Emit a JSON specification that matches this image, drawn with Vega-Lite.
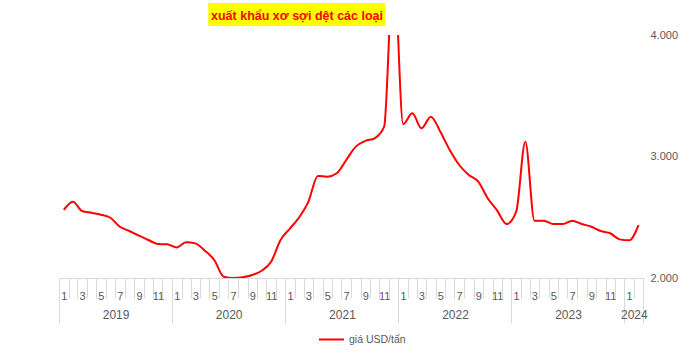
{
  "$schema": "https://vega.github.io/schema/vega-lite/v6.json",
  "width": 584,
  "height": 243,
  "autosize": {"type": "none"},
  "padding": {"left": 59, "top": 35, "right": 47, "bottom": 76},
  "background": "white",
  "title": {
    "text": "xuất khẩu xơ sợi dệt các loại",
    "color": "#ff0000",
    "font": "Liberation Sans Narrow, Liberation Sans, sans-serif",
    "fontSize": 12.5,
    "fontWeight": "bold",
    "anchor": "middle",
    "frame": "group",
    "dx": -54,
    "offset": -19,
    "zindex": 2
  },
  "config": {
    "view": {"stroke": null},
    "font": "Liberation Sans Narrow, Liberation Sans, sans-serif",
    "axis": {"labelFont": "Liberation Sans Narrow, Liberation Sans, sans-serif", "labelFontSize": 11, "labelColor": "#595959", "grid": false},
    "legend": {"labelFont": "Liberation Sans Narrow, Liberation Sans, sans-serif", "labelFontSize": 10.5, "labelColor": "#595959"}
  },
  "resolve": {"axis": {"x": "independent"}},
  "layer": [
    {
      "data": {"values": [{"box": "title"}]},
      "mark": {"type": "rect", "color": "#ffff00"},
      "encoding": {
        "x": {
          "datum": {"year": 2020, "month": 4, "date": 27, "utc": true},
          "type": "temporal",
          "scale": {"type": "utc", "domain": [{"year": 2019, "month": 1, "date": 1, "utc": true}, {"year": 2024, "month": 3, "date": 1, "utc": true}], "nice": false},
          "axis": {
            "orient": "bottom",
            "title": null,
            "values": [
              {"year": 2019, "month": 1, "date": 1, "utc": true},
              {"year": 2020, "month": 1, "date": 1, "utc": true},
              {"year": 2021, "month": 1, "date": 1, "utc": true},
              {"year": 2022, "month": 1, "date": 1, "utc": true},
              {"year": 2023, "month": 1, "date": 1, "utc": true},
              {"year": 2024, "month": 1, "date": 1, "utc": true},
              {"year": 2024, "month": 3, "date": 1, "utc": true}
            ],
            "labelExpr": "utcmonth(datum.value) == 2 ? '' : utcFormat(datum.value, '%Y')",
            "labelOffset": {"condition": {"test": "utcyear(datum.value) == 2024", "value": 9.4}, "value": 56.6},
            "labelOverlap": false,
            "labelFlush": false,
            "labelBound": false,
            "labelFontSize": 12,
            "tickSize": 45,
            "tickColor": "#d9d9d9",
            "domain": false,
            "labelPadding": -14
          }
        },
        "x2": {"datum": {"year": 2021, "month": 11, "date": 20, "utc": true}},
        "y": {
          "datum": 4263,
          "type": "quantitative",
          "scale": {"domain": [2000, 4000], "nice": false, "zero": false},
          "axis": {
            "orient": "right",
            "title": null,
            "values": [2000, 3000, 4000],
            "labelExpr": "replace(format(datum.value, ','), ',', '.')",
            "domain": false,
            "ticks": false,
            "labelPadding": 7
          }
        },
        "y2": {"datum": 4074}
      }
    },
    {
      "data": {"values": [
        {"month": "2019-01", "price": 2560}, {"month": "2019-02", "price": 2628}, {"month": "2019-03", "price": 2551}, {"month": "2019-04", "price": 2537},
        {"month": "2019-05", "price": 2521}, {"month": "2019-06", "price": 2496}, {"month": "2019-07", "price": 2422}, {"month": "2019-08", "price": 2387},
        {"month": "2019-09", "price": 2348}, {"month": "2019-10", "price": 2313}, {"month": "2019-11", "price": 2280}, {"month": "2019-12", "price": 2277},
        {"month": "2020-01", "price": 2252}, {"month": "2020-02", "price": 2294}, {"month": "2020-03", "price": 2285}, {"month": "2020-04", "price": 2225},
        {"month": "2020-05", "price": 2148}, {"month": "2020-06", "price": 2011}, {"month": "2020-07", "price": 2000}, {"month": "2020-08", "price": 2006},
        {"month": "2020-09", "price": 2025}, {"month": "2020-10", "price": 2060}, {"month": "2020-11", "price": 2134}, {"month": "2020-12", "price": 2313},
        {"month": "2021-01", "price": 2409}, {"month": "2021-02", "price": 2500}, {"month": "2021-03", "price": 2628}, {"month": "2021-04", "price": 2840},
        {"month": "2021-05", "price": 2834}, {"month": "2021-06", "price": 2862}, {"month": "2021-07", "price": 2971}, {"month": "2021-08", "price": 3081},
        {"month": "2021-09", "price": 3128}, {"month": "2021-10", "price": 3150}, {"month": "2021-11", "price": 3245}, {"month": "2021-12", "price": 4600},
        {"month": "2022-01", "price": 3267}, {"month": "2022-02", "price": 3355}, {"month": "2022-03", "price": 3232}, {"month": "2022-04", "price": 3328},
        {"month": "2022-05", "price": 3204}, {"month": "2022-06", "price": 3053}, {"month": "2022-07", "price": 2930}, {"month": "2022-08", "price": 2848},
        {"month": "2022-09", "price": 2793}, {"month": "2022-10", "price": 2656}, {"month": "2022-11", "price": 2555}, {"month": "2022-12", "price": 2444},
        {"month": "2023-01", "price": 2546}, {"month": "2023-02", "price": 3122}, {"month": "2023-03", "price": 2471}, {"month": "2023-04", "price": 2471},
        {"month": "2023-05", "price": 2444}, {"month": "2023-06", "price": 2444}, {"month": "2023-07", "price": 2471}, {"month": "2023-08", "price": 2444},
        {"month": "2023-09", "price": 2422}, {"month": "2023-10", "price": 2387}, {"month": "2023-11", "price": 2368}, {"month": "2023-12", "price": 2318},
        {"month": "2024-01", "price": 2310}, {"month": "2024-02", "price": 2436}
      ]},
      "mark": {"type": "line", "clip": true, "strokeWidth": 2, "interpolate": "monotone"},
      "encoding": {
        "x": {
          "field": "month",
          "timeUnit": "utcyearmonth",
          "type": "temporal",
          "bandPosition": 0.5,
          "scale": {"type": "utc", "domain": [{"year": 2019, "month": 1, "date": 1, "utc": true}, {"year": 2024, "month": 3, "date": 1, "utc": true}], "nice": false},
          "axis": {
            "orient": "bottom",
            "title": null,
            "tickCount": {"interval": "month", "step": 1},
            "labelExpr": "(utcmonth(datum.value) % 2 == 0 && !(utcyear(datum.value) == 2024 && utcmonth(datum.value) == 2)) ? '' + (utcmonth(datum.value) + 1) : ''",
            "labelOffset": 4.7,
            "labelOverlap": false,
            "labelFlush": false,
            "labelBound": false,
            "tickSize": 20,
            "tickColor": "#d9d9d9",
            "domainColor": "#d9d9d9",
            "labelPadding": -8
          }
        },
        "y": {
          "field": "price",
          "type": "quantitative",
          "scale": {"domain": [2000, 4000], "nice": false, "zero": false},
          "axis": {
            "orient": "right",
            "title": null,
            "values": [2000, 3000, 4000],
            "labelExpr": "replace(format(datum.value, ','), ',', '.')",
            "domain": false,
            "ticks": false,
            "labelPadding": 7
          }
        },
        "color": {
          "datum": "giá USD/tấn",
          "type": "nominal",
          "scale": {"range": ["#ff0000"]},
          "legend": {
            "orient": "none",
            "legendX": 259,
            "legendY": 291,
            "title": null,
            "padding": 0,
            "symbolType": "stroke",
            "symbolStrokeWidth": 2,
            "symbolSize": 625
          }
        }
      }
    }
  ]
}
